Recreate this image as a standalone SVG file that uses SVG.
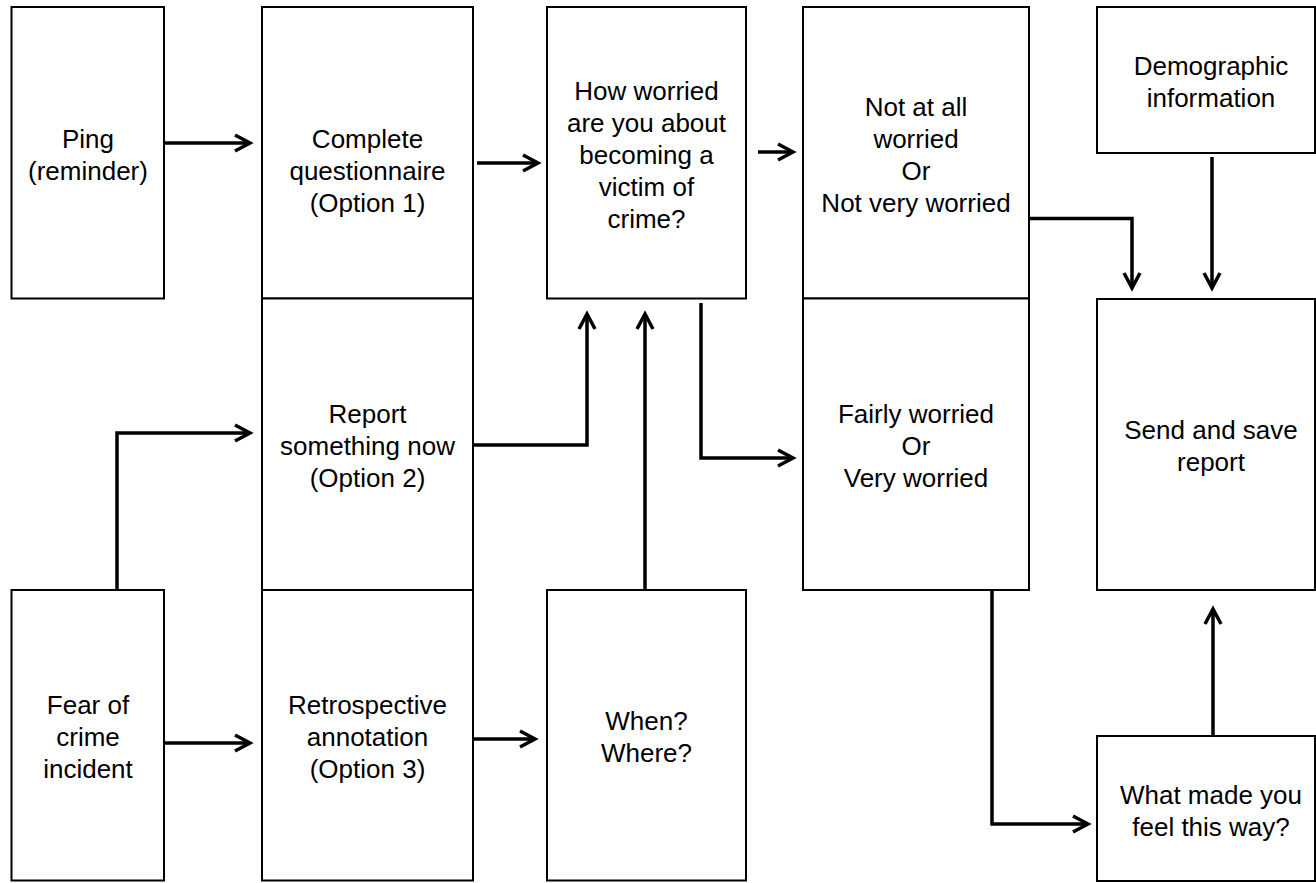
<svg xmlns="http://www.w3.org/2000/svg" width="1316" height="883" viewBox="0 0 1316 883">
<style>
.box{fill:#fff;stroke:#000;stroke-width:2}
.t{font-family:"Liberation Sans",Arial,sans-serif;font-size:26px;fill:#000;text-anchor:middle}
.c{fill:none;stroke:#000;stroke-width:3.5}
</style>
<defs>
<marker id="ah" markerUnits="userSpaceOnUse" viewBox="-3 -3 22 22" markerWidth="22" markerHeight="22" refX="15" refY="8" orient="auto">
<path d="M0,0 L15,8 L0,16" fill="none" stroke="#000" stroke-width="3.5"/>
</marker>
</defs>
<rect width="1316" height="883" fill="#fff"/>
<g id="ping"><rect class="box" x="11.5" y="7" width="152.5" height="291.5"/><text class="t" x="88" y="147.5">Ping</text><text class="t" x="88" y="179.5">(reminder)</text></g>
<g id="fear"><rect class="box" x="11.5" y="590" width="152.5" height="290.5"/><text class="t" x="88" y="714">Fear of</text><text class="t" x="88" y="746">crime</text><text class="t" x="88" y="778">incident</text></g>
<g id="complete"><rect class="box" x="262" y="7" width="211" height="291.5"/><text class="t" x="367.5" y="147.5">Complete</text><text class="t" x="367.5" y="179.5">questionnaire</text><text class="t" x="367.5" y="211.5">(Option 1)</text></g>
<g id="report"><rect class="box" x="262" y="298.5" width="211" height="291.5"/><text class="t" x="367.5" y="423">Report</text><text class="t" x="367.5" y="455">something now</text><text class="t" x="367.5" y="487">(Option 2)</text></g>
<g id="retro"><rect class="box" x="262" y="590" width="211" height="290.5"/><text class="t" x="367.5" y="714">Retrospective</text><text class="t" x="367.5" y="746">annotation</text><text class="t" x="367.5" y="778">(Option 3)</text></g>
<g id="howworried"><rect class="box" x="547" y="7" width="199" height="291.5"/><text class="t" x="646.5" y="99.5">How worried</text><text class="t" x="646.5" y="131.5">are you about</text><text class="t" x="646.5" y="163.5">becoming a</text><text class="t" x="646.5" y="195.5">victim of</text><text class="t" x="646.5" y="227.5">crime?</text></g>
<g id="when"><rect class="box" x="547" y="590" width="199" height="290.5"/><text class="t" x="646.5" y="730">When?</text><text class="t" x="646.5" y="762">Where?</text></g>
<g id="notatall"><rect class="box" x="803" y="7" width="226" height="291.5"/><text class="t" x="916" y="115.5">Not at all</text><text class="t" x="916" y="147.5">worried</text><text class="t" x="916" y="179.5">Or</text><text class="t" x="916" y="211.5">Not very worried</text></g>
<g id="fairly"><rect class="box" x="803" y="298.5" width="226" height="291.5"/><text class="t" x="916" y="423">Fairly worried</text><text class="t" x="916" y="455">Or</text><text class="t" x="916" y="487">Very worried</text></g>
<g id="demographic"><rect class="box" x="1097" y="7" width="218" height="146"/><text class="t" x="1211" y="75">Demographic</text><text class="t" x="1211" y="107">information</text></g>
<g id="send"><rect class="box" x="1097" y="299" width="218" height="291"/><text class="t" x="1211" y="439">Send and save</text><text class="t" x="1211" y="471">report</text></g>
<g id="whatmade"><rect class="box" x="1097" y="736" width="218" height="145"/><text class="t" x="1211" y="803.5">What made you</text><text class="t" x="1211" y="835.5">feel this way?</text></g>
<g id="connectors">
<path class="c" marker-end="url(#ah)" d="M164,143 H250"/>
<path class="c" marker-end="url(#ah)" d="M477,163 H538"/>
<path class="c" marker-end="url(#ah)" d="M758,152 H793"/>
<path class="c" marker-end="url(#ah)" d="M473,445 H587 V314"/>
<path class="c" marker-end="url(#ah)" d="M645,590 V314"/>
<path class="c" marker-end="url(#ah)" d="M701,303 V458 H793"/>
<path class="c" marker-end="url(#ah)" d="M1028,218.5 H1132 V288"/>
<path class="c" marker-end="url(#ah)" d="M1212,157 V288"/>
<path class="c" marker-end="url(#ah)" d="M992,590 V824 H1088"/>
<path class="c" marker-end="url(#ah)" d="M1213,736 V609"/>
<path class="c" marker-end="url(#ah)" d="M117,590 V433 H250"/>
<path class="c" marker-end="url(#ah)" d="M163,743 H250"/>
<path class="c" marker-end="url(#ah)" d="M474,739 H535"/>
</g>
</svg>
